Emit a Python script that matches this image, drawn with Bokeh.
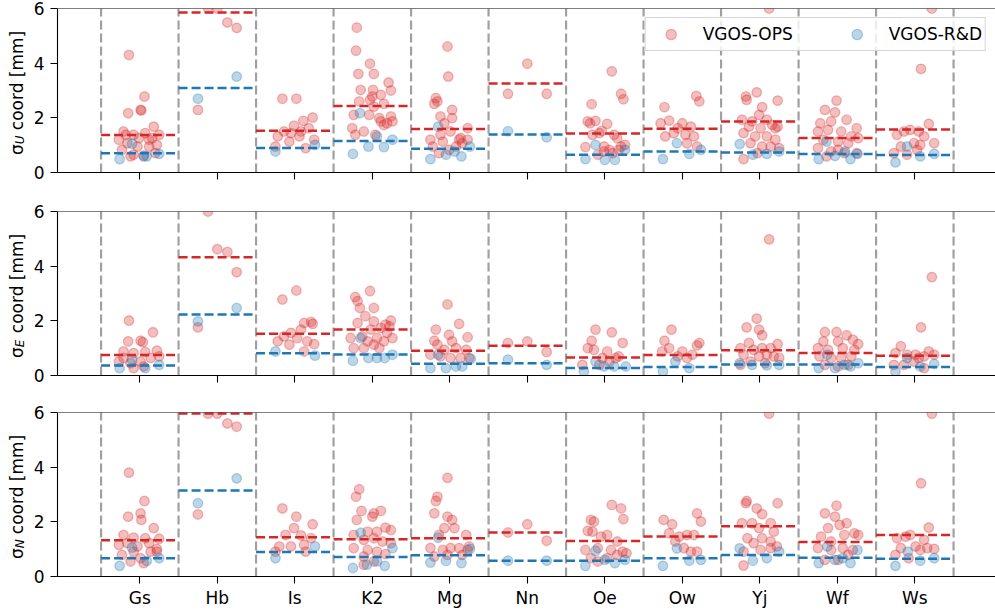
from bokeh.plotting import figure
from bokeh.layouts import column, row
from bokeh.models import Range1d, FixedTicker, Span, Label, Legend, LegendItem, CustomLabelingPolicy
from bokeh.embed import file_html
from bokeh.resources import INLINE

STATIONS = ["Gs", "Hb", "Is", "K2", "Mg", "Nn", "Oe", "Ow", "Yj", "Wf", "Ws"]
Y_TICKS = [0, 2, 4, 6]
SERIES = ["VGOS-OPS", "VGOS-R&D"]
COMPONENTS = ["U", "E", "N"]

# station -> list of (horizontal jitter, sigma in mm)
U_OPS = {
    "Gs": [(-0.14,4.30),(0.06,2.78),(-0.15,2.17),(0.01,2.29),(0.02,2.27),(-0.21,1.50),(0.18,1.68),(-0.08,1.38),(0.07,1.44),(0.25,1.38),(-0.27,1.20),(-0.16,1.07),(-0.03,0.95),(0.12,0.95),(0.22,1.01),(-0.23,0.83),(-0.08,0.65),(0.05,0.59),(-0.12,0.59),(0.20,0.71),(0.12,1.20),(-0.01,1.26),(-0.18,1.38),(0.16,1.26)],
    "Hb": [(-0.12,6.02),(0.0,6.0),(0.13,5.49),(0.25,5.29),(-0.25,2.29)],
    "Is": [(-0.16,2.70),(0.02,2.70),(0.23,2.01),(0.11,1.89),(-0.01,1.71),(-0.14,1.50),(-0.22,1.32),(-0.05,1.44),(0.06,1.32),(0.18,1.62),(0.25,1.20),(0.14,0.89),(-0.07,1.13),(-0.25,0.95),(0.08,1.50)],
    "K2": [(-0.20,5.30),(-0.21,4.46),(-0.03,3.98),(-0.18,3.61),(0.02,3.61),(0.21,3.29),(-0.15,3.02),(0.01,3.02),(0.24,3.00),(0.11,2.84),(-0.03,2.66),(-0.17,2.60),(0.15,2.51),(0.02,2.41),(-0.24,2.11),(-0.04,2.11),(0.24,2.05),(0.11,1.87),(0.19,1.80),(0.26,1.87),(-0.26,1.62),(-0.11,1.50),(0.04,1.38),(-0.22,1.38),(0.15,1.74),(0.09,1.99),(0.0,2.78)],
    "Mg": [(-0.03,4.61),(-0.02,3.51),(-0.18,2.72),(-0.16,2.60),(-0.20,2.51),(0.03,2.29),(0.03,1.99),(-0.12,2.05),(-0.07,1.80),(0.23,1.62),(-0.25,1.20),(-0.12,1.38),(0.01,1.50),(0.12,1.20),(0.16,1.07),(0.23,1.20),(0.08,0.95),(-0.22,0.95),(-0.14,0.71),(-0.01,0.83),(0.14,1.26),(-0.09,1.13)],
    "Nn": [(0.0,3.98),(-0.25,2.88),(0.25,2.88)],
    "Oe": [(0.09,3.70),(0.21,2.88),(0.24,2.68),(-0.17,2.50),(-0.22,1.87),(-0.12,1.89),(-0.19,1.80),(0.03,1.78),(-0.04,1.52),(-0.07,1.44),(0.12,1.38),(0.16,1.26),(-0.16,1.38),(-0.25,0.93),(-0.01,0.95),(0.06,0.83),(0.21,0.95),(0.26,1.01),(-0.09,0.65),(0.10,0.71),(0.18,0.83),(-0.01,0.77)],
    "Ow": [(-0.23,2.39),(0.18,2.80),(0.22,2.60),(-0.28,1.80),(-0.17,1.90),(0.0,1.80),(0.11,1.68),(-0.06,1.62),(-0.22,1.32),(-0.11,1.44),(0.04,1.38),(0.15,1.32),(0.06,1.07),(0.19,0.95)],
    "Yj": [(0.12,6.0),(-0.04,2.93),(-0.18,2.78),(-0.17,2.66),(0.23,2.63),(0.03,2.39),(-0.01,2.11),(-0.23,1.93),(-0.10,1.87),(0.09,1.93),(0.16,1.74),(-0.14,1.68),(0.01,1.62),(0.20,1.62),(0.23,1.68),(-0.21,1.44),(-0.06,1.32),(0.09,1.32),(0.20,1.20),(-0.12,1.07),(0.03,0.95),(0.14,0.95),(-0.21,0.49),(-0.03,0.71),(0.25,0.89)],
    "Wf": [(-0.01,2.63),(-0.16,2.29),(-0.03,2.20),(-0.22,1.80),(-0.08,1.87),(0.12,1.93),(0.25,1.62),(-0.25,1.50),(-0.12,1.56),(0.05,1.50),(0.18,1.32),(-0.18,1.20),(0.01,1.13),(0.14,1.07),(0.27,1.26),(-0.25,0.89),(-0.08,0.77),(0.09,0.71),(0.25,0.71),(-0.14,0.59),(0.01,0.83)],
    "Ws": [(0.22,6.0),(0.08,3.79),(0.18,1.78),(-0.23,1.38),(-0.14,1.50),(-0.06,1.56),(0.05,1.50),(0.12,1.32),(-0.18,0.95),(-0.01,1.07),(0.07,1.01),(0.25,1.07),(-0.27,0.71),(-0.10,0.65),(0.03,0.83)],
}
U_RD = {
    "Gs": [(-0.26,0.49),(-0.10,1.05),(0.09,0.59),(0.25,0.68),(0.05,0.62)],
    "Hb": [(-0.25,2.70),(0.25,3.51)],
    "Is": [(-0.25,0.77),(0.26,1.01)],
    "K2": [(-0.16,2.17),(-0.25,0.68),(-0.05,0.95),(0.06,1.32),(0.15,0.93),(0.26,1.20)],
    "Mg": [(-0.15,1.68),(-0.25,0.49),(-0.05,0.65),(0.15,0.59),(0.26,0.95),(0.06,0.77)],
    "Nn": [(-0.25,1.51),(0.25,1.29)],
    "Oe": [(-0.25,0.49),(-0.12,1.01),(0.0,0.46),(0.13,0.46),(0.26,0.83)],
    "Ow": [(-0.25,0.49),(-0.07,1.07),(0.09,0.68),(0.24,0.83)],
    "Yj": [(-0.26,1.04),(-0.09,0.65),(0.09,0.68),(0.25,0.77)],
    "Wf": [(-0.24,0.49),(-0.14,1.13),(-0.03,0.61),(0.10,0.77),(0.17,0.49),(0.26,0.68)],
    "Ws": [(-0.25,0.37),(-0.10,0.95),(0.07,0.59),(0.25,0.68)],
}
E_OPS = {
    "Gs": [(-0.14,2.01),(-0.15,1.25),(0.01,1.27),(0.04,1.22),(0.17,1.58),(-0.21,0.88),(-0.08,0.82),(0.07,0.86),(0.22,0.91),(-0.27,0.51),(-0.12,0.45),(0.01,0.51),(0.14,0.64),(0.25,0.70),(-0.08,0.27),(0.05,0.33),(-0.21,0.64)],
    "Hb": [(-0.12,6.0),(0.0,4.62),(0.13,4.52),(0.25,3.78),(-0.25,1.76)],
    "Is": [(-0.16,2.78),(0.02,3.11),(0.12,1.92),(0.21,1.96),(0.23,1.89),(0.08,1.68),(-0.14,1.43),(-0.05,1.56),(0.03,1.37),(0.16,1.25),(-0.22,1.25),(-0.07,1.13),(0.25,1.15),(0.12,0.88)],
    "K2": [(-0.03,3.09),(-0.22,2.87),(-0.19,2.72),(-0.16,2.47),(0.02,2.47),(-0.09,2.17),(0.24,2.01),(0.17,1.86),(0.02,1.98),(-0.19,1.92),(0.11,1.74),(-0.02,1.68),(0.19,1.56),(-0.13,1.43),(-0.28,1.37),(0.06,1.37),(0.26,1.37),(-0.06,1.25),(0.15,1.25),(-0.24,1.00),(0.02,1.13),(0.09,1.00),(-0.11,1.00),(0.22,1.80)],
    "Mg": [(-0.03,2.60),(0.12,1.89),(-0.18,1.68),(0.23,1.40),(-0.20,1.27),(-0.01,1.49),(0.03,1.25),(-0.16,1.13),(-0.07,0.94),(0.08,1.00),(0.21,0.94),(-0.25,0.76),(-0.12,0.70),(0.01,0.64),(0.14,0.64),(0.25,0.64)],
    "Nn": [(-0.25,1.19),(0.0,1.25),(0.25,0.86)],
    "Oe": [(-0.12,1.68),(0.09,1.58),(-0.17,1.27),(0.23,1.19),(-0.22,1.00),(-0.14,0.94),(0.03,0.88),(0.18,0.70),(-0.29,0.39),(-0.07,0.39),(0.06,0.51),(0.14,0.64),(-0.03,0.64)],
    "Ow": [(-0.14,1.68),(-0.23,1.27),(-0.26,0.88),(-0.17,1.00),(0.0,0.88),(0.19,1.10),(0.22,1.19),(-0.06,0.70),(0.06,0.64),(0.13,0.76)],
    "Yj": [(0.12,4.98),(-0.04,2.08),(-0.17,1.76),(-0.01,1.68),(0.03,1.47),(-0.14,1.19),(0.23,1.15),(-0.25,1.00),(-0.08,0.94),(0.03,1.00),(0.14,1.00),(-0.21,0.76),(-0.01,0.70),(0.09,0.76),(0.18,0.70),(0.25,0.64),(-0.12,0.51),(0.07,0.45),(-0.25,0.39)],
    "Wf": [(-0.16,1.59),(-0.01,1.59),(0.12,1.47),(0.20,1.31),(0.27,1.15),(-0.18,1.25),(0.01,1.25),(-0.25,1.00),(-0.12,0.94),(0.07,1.00),(0.22,0.94),(-0.23,0.70),(-0.08,0.64),(0.05,0.64),(0.18,0.70),(-0.16,0.39),(0.01,0.33),(0.14,0.39)],
    "Ws": [(0.22,3.60),(0.08,1.76),(-0.18,1.07),(-0.25,0.82),(-0.10,0.76),(0.01,0.76),(0.12,0.70),(0.18,0.88),(0.25,0.76),(-0.27,0.39),(-0.14,0.39),(-0.01,0.51),(0.12,0.27),(0.05,0.64)],
}
E_RD = {
    "Gs": [(-0.26,0.27),(-0.10,0.58),(0.07,0.27),(0.25,0.39)],
    "Hb": [(-0.25,1.98),(0.25,2.47)],
    "Is": [(-0.25,0.88),(0.26,0.73)],
    "K2": [(-0.15,1.37),(-0.25,0.54),(-0.05,0.64),(0.06,0.64),(0.16,0.64),(0.26,0.76)],
    "Mg": [(-0.15,0.76),(-0.25,0.27),(-0.05,0.27),(0.08,0.33),(0.16,0.33),(0.27,0.61)],
    "Nn": [(-0.25,0.58),(0.25,0.39)],
    "Oe": [(-0.27,0.15),(-0.12,0.51),(-0.01,0.33),(0.12,0.33),(0.27,0.33)],
    "Ow": [(-0.25,0.15),(-0.09,0.51),(0.09,0.27)],
    "Yj": [(-0.26,0.45),(-0.10,0.39),(0.09,0.37),(0.25,0.39)],
    "Wf": [(-0.24,0.27),(-0.13,0.76),(-0.03,0.27),(0.09,0.39),(0.17,0.33),(0.27,0.45)],
    "Ws": [(-0.25,0.15),(-0.10,0.64),(0.07,0.33),(0.25,0.42)],
}
N_OPS = {
    "Gs": [(-0.14,3.80),(0.06,2.76),(-0.15,2.19),(0.01,2.31),(0.02,2.07),(0.18,1.77),(-0.21,1.52),(-0.08,1.42),(0.07,1.40),(0.25,1.38),(-0.27,1.16),(-0.16,1.22),(-0.03,1.10),(0.12,1.22),(0.22,1.01),(-0.23,0.79),(-0.12,0.55),(0.01,0.67),(0.14,0.91),(0.22,0.91),(-0.08,0.91),(0.05,0.49)],
    "Hb": [(-0.12,5.96),(0.0,5.96),(0.13,5.60),(0.25,5.48),(-0.25,2.27)],
    "Is": [(-0.16,2.49),(0.02,2.19),(0.23,1.91),(-0.01,1.77),(-0.12,1.52),(0.08,1.50),(0.21,1.40),(-0.20,1.10),(-0.05,1.10),(0.12,1.16),(-0.25,0.91),(0.14,0.91)],
    "K2": [(-0.17,3.19),(-0.21,2.92),(-0.14,2.40),(0.02,2.31),(0.11,2.40),(-0.20,2.07),(0.0,2.19),(0.17,1.79),(0.24,1.70),(-0.06,1.64),(0.06,1.64),(-0.24,1.52),(-0.11,1.34),(0.02,1.40),(0.13,1.28),(0.24,1.22),(-0.24,1.04),(-0.06,0.97),(0.06,0.91),(0.17,0.82),(-0.11,0.73),(0.02,0.55),(-0.11,0.43)],
    "Mg": [(-0.03,3.61),(-0.16,2.92),(-0.18,2.76),(-0.20,2.31),(-0.03,2.19),(0.03,2.07),(-0.07,1.77),(0.06,1.77),(0.21,1.52),(-0.14,1.52),(-0.25,1.04),(-0.09,0.97),(0.01,1.04),(0.12,1.04),(0.23,0.97),(-0.20,0.73),(-0.03,0.79),(0.16,0.79),(0.25,1.10)],
    "Nn": [(-0.25,1.61),(0.0,1.91),(0.25,1.31)],
    "Oe": [(0.09,2.62),(0.21,2.49),(0.24,2.10),(-0.18,2.07),(-0.14,2.01),(-0.22,1.67),(-0.16,1.64),(-0.05,1.46),(0.03,1.52),(0.16,1.28),(-0.25,0.97),(-0.09,1.04),(0.08,0.97),(0.23,0.91),(-0.09,0.55),(0.03,0.67),(0.16,0.79),(-0.18,0.67),(0.28,0.85)],
    "Ow": [(-0.24,2.07),(-0.13,1.91),(0.19,2.31),(0.24,2.01),(-0.17,1.58),(-0.04,1.46),(0.06,1.52),(0.15,1.52),(-0.09,1.28),(0.02,1.04),(0.11,0.91),(0.19,0.91)],
    "Yj": [(0.12,5.96),(-0.17,2.76),(-0.18,2.68),(0.23,2.68),(-0.04,2.49),(0.03,2.28),(-0.23,1.95),(-0.10,1.95),(0.14,1.95),(-0.01,1.77),(0.18,1.64),(-0.16,1.40),(0.03,1.40),(0.14,1.28),(-0.08,1.22),(-0.21,0.91),(0.01,0.97),(0.14,1.04),(0.22,1.10),(-0.21,0.40)],
    "Wf": [(-0.01,2.59),(-0.16,2.31),(-0.03,2.19),(0.12,1.95),(-0.12,1.77),(0.03,1.89),(0.22,1.58),(-0.21,1.46),(-0.08,1.28),(0.09,1.52),(0.27,1.52),(-0.25,1.04),(-0.08,0.97),(0.07,1.04),(0.20,0.97),(-0.16,0.61),(0.01,0.61),(0.14,0.79)],
    "Ws": [(0.22,5.96),(0.08,3.41),(0.18,1.79),(-0.23,1.40),(-0.12,1.46),(-0.06,1.52),(0.12,1.34),(-0.18,1.04),(0.01,1.10),(0.16,1.04),(0.25,1.01),(-0.25,0.79),(-0.08,0.67),(0.07,0.97)],
}
N_RD = {
    "Gs": [(-0.26,0.39),(-0.10,1.06),(0.09,0.57),(0.25,0.67)],
    "Hb": [(-0.25,2.68),(0.25,3.59)],
    "Is": [(-0.25,0.67),(0.26,1.10)],
    "K2": [(-0.15,1.60),(-0.25,0.31),(-0.07,0.43),(0.06,0.55),(0.16,0.39),(0.26,1.04)],
    "Mg": [(-0.15,1.42),(-0.25,0.51),(-0.05,0.57),(0.15,0.49),(0.26,1.01)],
    "Nn": [(-0.25,0.58),(0.25,0.58)],
    "Oe": [(-0.25,0.39),(-0.12,0.94),(0.0,0.61),(0.13,0.49),(0.26,0.61)],
    "Ow": [(-0.25,0.39),(-0.07,1.03),(0.09,0.58),(0.24,0.61)],
    "Yj": [(-0.26,1.03),(-0.09,0.58),(0.09,0.67),(0.25,0.91)],
    "Wf": [(-0.24,0.49),(-0.13,1.10),(-0.03,0.61),(0.07,0.67),(0.17,0.49),(0.26,0.97)],
    "Ws": [(-0.25,0.39),(-0.09,0.91),(0.07,0.58),(0.25,0.67)],
}

# median levels per station
U_OPS_MED = [1.37, 5.85, 1.53, 2.43, 1.59, 3.26, 1.43, 1.60, 1.87, 1.26, 1.57]
U_RD_MED = [0.70, 3.09, 0.90, 1.15, 0.87, 1.39, 0.65, 0.77, 0.73, 0.68, 0.64]
E_OPS_MED = [0.75, 4.33, 1.53, 1.68, 0.91, 1.09, 0.66, 0.75, 0.92, 0.82, 0.72]
E_RD_MED = [0.37, 2.23, 0.81, 0.77, 0.43, 0.45, 0.27, 0.31, 0.40, 0.40, 0.31]
N_OPS_MED = [1.33, 5.96, 1.44, 1.36, 1.40, 1.61, 1.30, 1.46, 1.84, 1.26, 1.52]
N_RD_MED = [0.67, 3.15, 0.90, 0.71, 0.78, 0.58, 0.58, 0.67, 0.79, 0.69, 0.65]

RED = "#d62728"
BLUE = "#1f77b4"
GRAY = "#a0a0a0"
FONT = "DejaVu Sans"
FS = "17px"

FRAME_W, FRAME_H = 938, 164
LABEL_W = 30          # strip holding the rotated y label
AXIS_W = 27           # border holding y ticks and tick labels
X_START, X_END = -1.062, 11.041
Y_MIN, Y_MAX = Y_TICKS[0], Y_TICKS[-1]


def flatten(d):
    xs, ys = [], []
    for i, st in enumerate(STATIONS):
        for off, v in d[st]:
            xs.append(i + off)
            ys.append(v)
    return xs, ys


def make_label_strip(sub, top, bottom):
    s = figure(frame_width=LABEL_W, frame_height=FRAME_H,
               x_range=Range1d(0, LABEL_W), y_range=Range1d(0, FRAME_H),
               output_backend="svg", toolbar_location=None, title=None,
               min_border_left=0, min_border_right=0,
               min_border_top=top, min_border_bottom=bottom)
    s.axis.visible = False
    s.grid.visible = False
    s.outline_line_color = None
    s.background_fill_color = "white"
    s.border_fill_color = "white"
    mid = FRAME_H / 2
    common = dict(angle=1.5707963, text_font=FONT, text_color="black",
                  text_align="left", text_baseline="alphabetic")
    s.add_layout(Label(x=16.5, y=mid - 64.6, text="σ", text_font_size=FS, **common))
    s.add_layout(Label(x=19.5, y=mid - 53.8, text=sub, text_font_size="12px",
                       text_font_style="italic", **common))
    s.add_layout(Label(x=16.5, y=mid - 39.7, text="coord [mm]", text_font_size=FS, **common))
    return s


def make_panel(ops, rd, ops_med, rd_med, top, bottom, show_labels, legend):
    p = figure(frame_width=FRAME_W, frame_height=FRAME_H,
               x_range=Range1d(X_START, X_END), y_range=Range1d(Y_MIN, Y_MAX),
               output_backend="svg", toolbar_location=None, title=None,
               min_border_left=AXIS_W, min_border_right=0,
               min_border_top=top, min_border_bottom=bottom)
    p.grid.visible = False
    p.outline_line_color = None
    p.background_fill_color = "white"
    p.border_fill_color = "white"

    n = len(STATIONS)
    seps = [i - 0.5 for i in range(n + 1)]
    p.segment(x0=seps, y0=[Y_MIN] * len(seps), x1=seps, y1=[Y_MAX] * len(seps),
              line_color=GRAY, line_width=2.2, line_dash="9 4")

    xo, yo = flatten(ops)
    r_ops = p.scatter(xo, yo, size=9.6, marker="circle", fill_color=RED, fill_alpha=0.3,
                      line_color=RED, line_alpha=0.3, line_width=1.3)
    xr, yr = flatten(rd)
    r_rd = p.scatter(xr, yr, size=9.6, marker="circle", fill_color=BLUE, fill_alpha=0.3,
                     line_color=BLUE, line_alpha=0.3, line_width=1.3)

    lo = [i - 0.5 for i in range(n)]
    hi = [i + 0.5 for i in range(n)]
    p.segment(x0=lo, y0=ops_med, x1=hi, y1=ops_med, line_color=RED, line_width=2.5, line_dash="9 4")
    p.segment(x0=lo, y0=rd_med, x1=hi, y1=rd_med, line_color=BLUE, line_width=2.5, line_dash="9 4")

    p.add_layout(Span(location=Y_MAX, dimension="width", line_color="black", line_width=1.1))

    xa = p.xaxis[0]
    xa.ticker = FixedTicker(ticks=list(range(n)))
    xa.major_label_overrides = {i: s for i, s in enumerate(STATIONS)}
    xa.minor_tick_line_color = None
    xa.major_tick_in = 0
    xa.major_tick_out = 7
    xa.major_tick_line_width = 1.1
    xa.axis_line_width = 1.1
    xa.axis_line_color = "black"
    xa.major_tick_line_color = "black"
    xa.major_label_text_font = FONT
    xa.major_label_text_color = "black"
    if show_labels:
        xa.major_label_text_font_size = FS
        xa.major_label_standoff = 4
    else:
        xa.major_label_text_font_size = "2px"
        xa.major_label_standoff = 0
        xa.major_label_policy = CustomLabelingPolicy(code="return false")

    ya = p.yaxis[0]
    ya.ticker = FixedTicker(ticks=Y_TICKS)
    ya.minor_tick_line_color = None
    ya.major_tick_in = 0
    ya.major_tick_out = 7
    ya.major_tick_line_width = 1.1
    ya.axis_line_width = 1.1
    ya.axis_line_color = "black"
    ya.major_tick_line_color = "black"
    ya.major_label_text_font = FONT
    ya.major_label_text_font_size = FS
    ya.major_label_text_color = "black"
    ya.major_label_standoff = 6

    if legend:
        lg = Legend(items=[LegendItem(label=SERIES[0], renderers=[r_ops]),
                           LegendItem(label=SERIES[1], renderers=[r_rd])],
                    orientation="horizontal", location="top_right", margin=9,
                    padding=3, glyph_width=44, glyph_height=26, label_standoff=10,
                    spacing=42, label_text_font=FONT, label_text_font_size=FS,
                    label_text_color="black", label_text_baseline="middle",
                    border_line_color="#cccccc", border_line_alpha=0.8,
                    border_line_width=1.2,
                    background_fill_color="white", background_fill_alpha=0.8)
        p.add_layout(lg)
    return p


rows = []
specs = [
    (U_OPS, U_RD, U_OPS_MED, U_RD_MED, COMPONENTS[0], 8, 30, False, True),
    (E_OPS, E_RD, E_OPS_MED, E_RD_MED, COMPONENTS[1], 9, 28, False, False),
    (N_OPS, N_RD, N_OPS_MED, N_RD_MED, COMPONENTS[2], 9, 35, True, False),
]
for ops, rd, om, rm, sub, top, bottom, lab, leg in specs:
    strip = make_label_strip(sub, top, bottom)
    panel = make_panel(ops, rd, om, rm, top, bottom, lab, leg)
    rows.append(row(strip, panel, spacing=0))

layout = column(*rows, spacing=0)
open("out.html", "w").write(file_html(layout, INLINE))
